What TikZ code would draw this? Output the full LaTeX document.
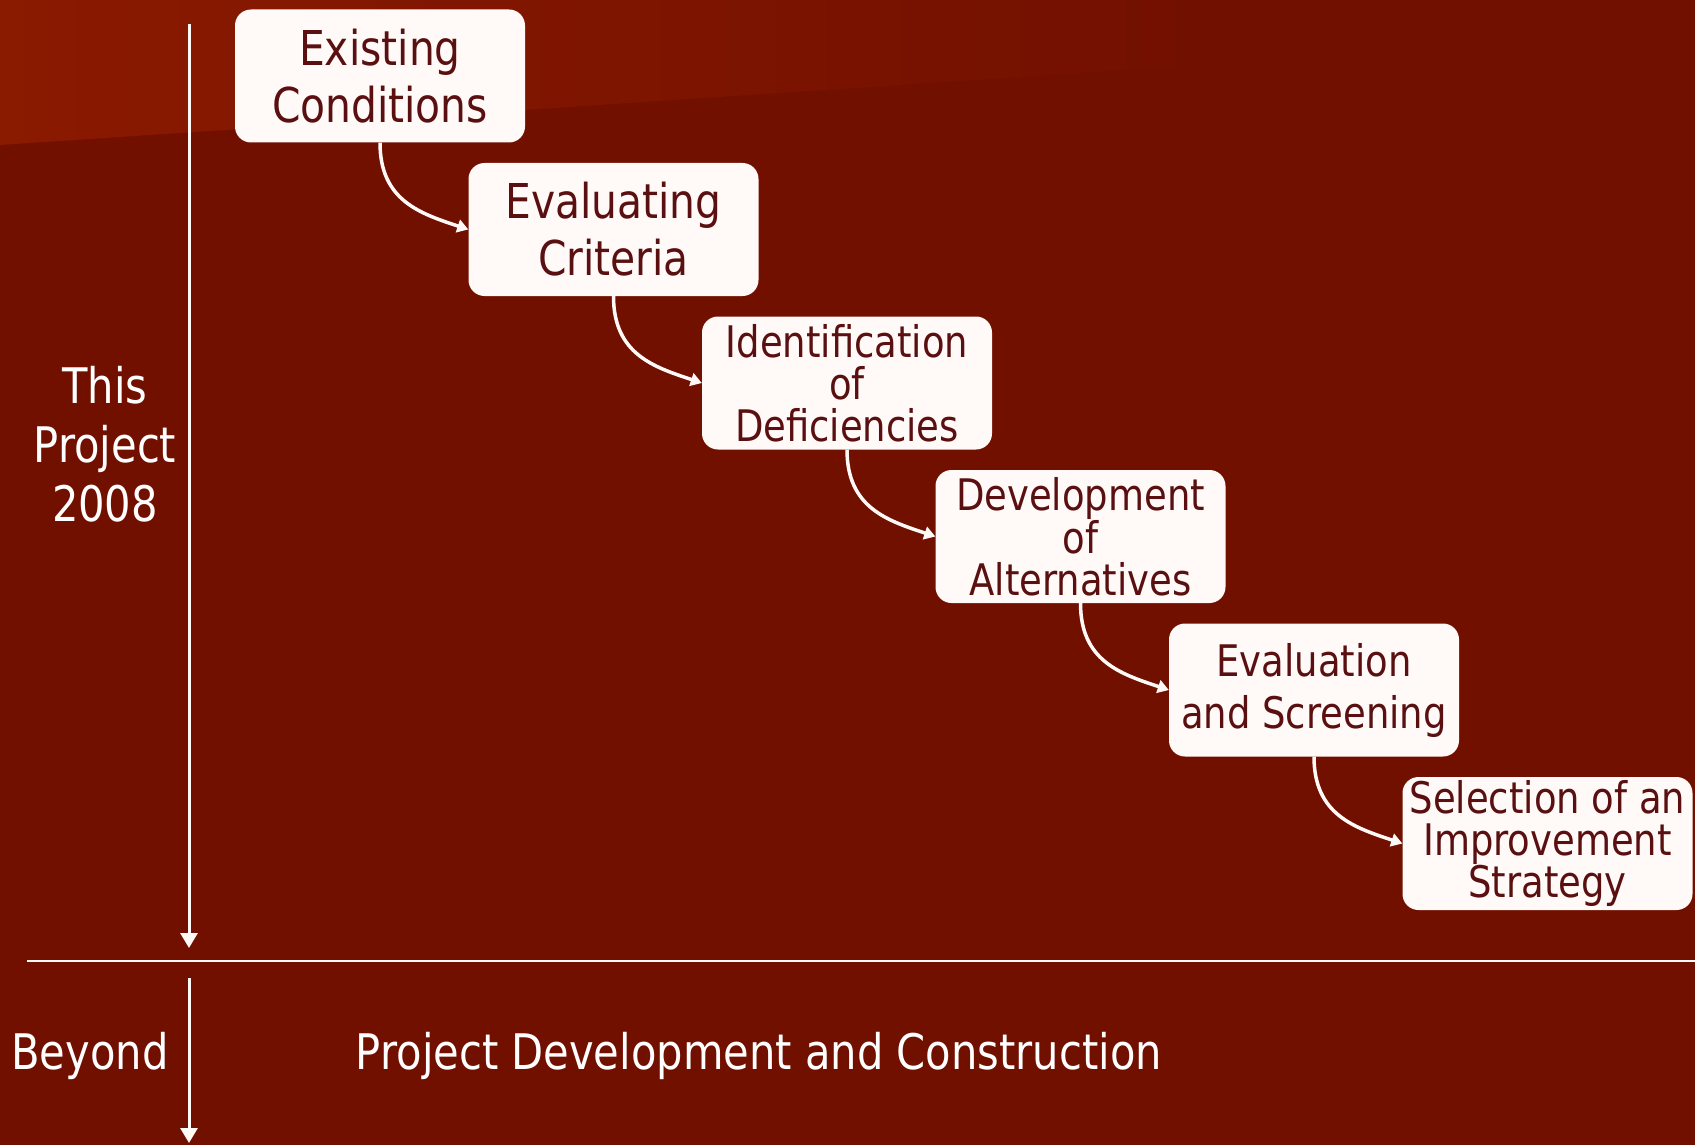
\documentclass[tikz,border=0pt]{standalone}
\usepackage{fontspec}
\setmainfont{DejaVu Sans}[FakeStretch=0.85]
\usetikzlibrary{arrows.meta}
\definecolor{bgred}{HTML}{721000}
\definecolor{bandred}{HTML}{8A1A00}
\definecolor{inkred}{HTML}{5A1010}
\definecolor{paper}{HTML}{FFF9F8}

\begin{document}
\begin{tikzpicture}[x=1pt,y=-1pt,
  stage/.style={fill=paper, rounded corners=16pt, minimum width=290pt,
    minimum height=133pt, text=inkred, align=center, inner sep=0pt},
  bigstage/.style={stage, font=\fontsize{48}{57}\selectfont},
  smallstage/.style={stage, font=\fontsize{43.5}{42}\selectfont},
  flow/.style={draw=paper, line width=3.5pt, -{Triangle[length=11pt,width=13pt]}},
  timeline/.style={draw=paper, line width=3pt, -{Triangle[length=15pt,width=17pt]}},
  side/.style={text=white, align=center, font=\fontsize{49}{59}\selectfont}]

% backdrop with the lighter band across the top left
\fill[bgred] (0,0) rectangle (1695,1145);
\shade[left color=bandred, right color=bgred]
  (0,0) -- (1200,0) -- (1200,65) -- (0,145) -- cycle;
\useasboundingbox (0,0) rectangle (1695,1145);

% process stages
\node[bigstage] (s1) at (380,76) {Existing\\Conditions};
\node[bigstage] (s2) at (613.5,229.5) {Evaluating\\Criteria};
\node[smallstage] (s3) at (847,383) {Identification\\of\\Deficiencies};
\node[smallstage] (s4) at (1080.5,536.5) {Development\\of\\Alternatives};
\node[stage, font=\fontsize{43.5}{52}\selectfont] (s5) at (1314,690) {Evaluation\\and Screening};
\node[smallstage] (s6) at (1547.5,843.5) {Selection of an\\Improvement\\Strategy};

% connectors between stages
\foreach \a/\b in {s1/s2,s2/s3,s3/s4,s4/s5,s5/s6}
  \draw[flow] (\a.south) .. controls +(0,58) and +(-48,-16) .. (\b.west);

% time axis and divider
\coordinate (t0) at (189,24);
\coordinate (t1) at (189,948);
\draw[timeline] (t0) -- (t1);
\coordinate (h0) at (27,961);
\coordinate (h1) at (1695,961);
\draw[draw=paper, line width=2.5pt] (h0) -- (h1);
\coordinate (b0) at (189,978);
\coordinate (b1) at (189,1143);
\draw[timeline] (b0) -- (b1);

% labels
\node[side] (thisproj) at (105,444) {This\\Project\\2008};
\node[side] (beyond) at (90,1056) {Beyond};
\node[side] (pdc) at (759,1056) {Project Development and Construction};
\end{tikzpicture}
\end{document}
